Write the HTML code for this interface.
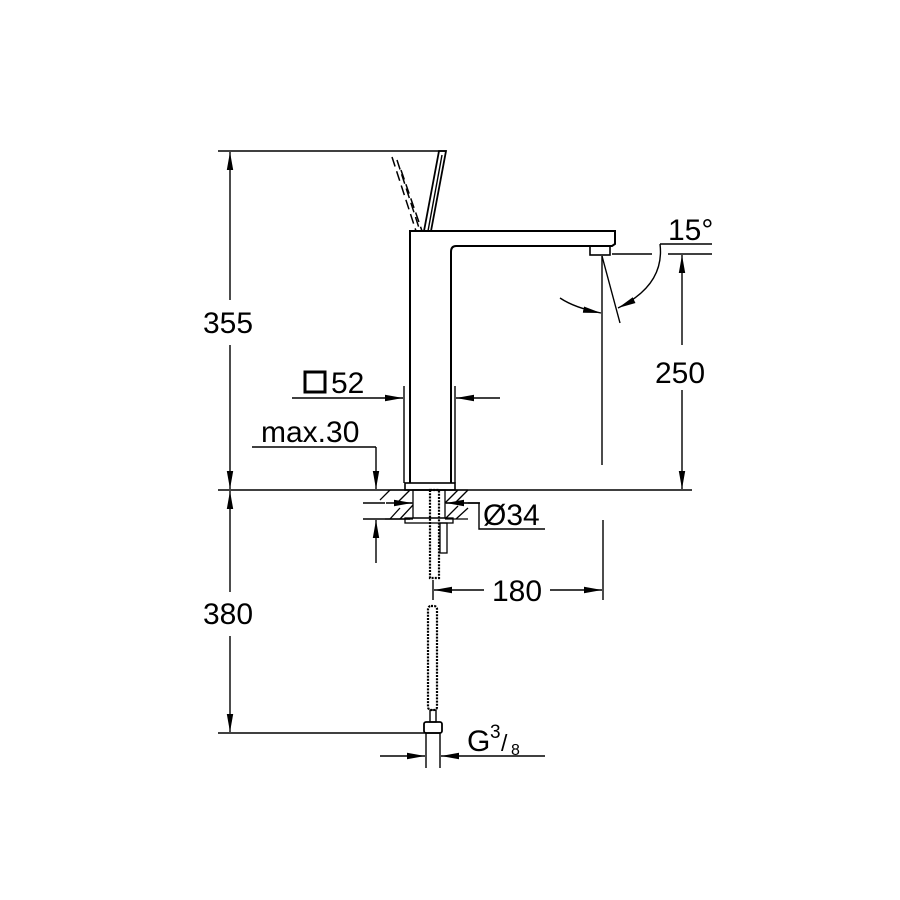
<!DOCTYPE html>
<html><head><style>body{margin:0;background:#fff}svg{display:block}text{font-family:"Liberation Sans",sans-serif;fill:#000}</style></head>
<body>
<svg width="900" height="900" viewBox="0 0 900 900" xmlns="http://www.w3.org/2000/svg" stroke="#000" fill="none" stroke-width="1.4">
<defs><marker id="a" viewBox="0 0 18 8" refX="18" refY="4" markerWidth="18" markerHeight="8" markerUnits="userSpaceOnUse" orient="auto"><path d="M0,0.8 L18,4 L0,7.2z" fill="#000" stroke="none"/></marker></defs>
<line x1="218" y1="151" x2="446" y2="151"/>
<line x1="218" y1="490" x2="692" y2="490"/>
<line x1="218" y1="733" x2="440" y2="733"/>
<line x1="230" y1="300" x2="230" y2="152" marker-end="url(#a)"/>
<line x1="230" y1="345" x2="230" y2="489" marker-end="url(#a)"/>
<text x="228" y="333" font-size="30" text-anchor="middle" stroke="none">355</text>
<line x1="230" y1="592" x2="230" y2="491" marker-end="url(#a)"/>
<line x1="230" y1="636" x2="230" y2="732" marker-end="url(#a)"/>
<text x="228" y="624" font-size="30" text-anchor="middle" stroke="none">380</text>
<path d="M410,483 V231 H615 V244 L612,246 H456 Q451,246 451,252 V483" stroke-width="2"/>
<rect x="590" y="246" width="20" height="9" stroke-width="1.6"/>
<rect x="405" y="483" width="50" height="7" stroke-width="1.6"/>
<path d="M424,231 L439,151 H446 L431,231" stroke-width="1.8"/>
<line x1="428" y1="231" x2="442" y2="155"/>
<g stroke-dasharray="10,5" stroke-width="1.5"><line x1="392" y1="157" x2="416" y2="231"/><line x1="397" y1="160" x2="420" y2="231"/><line x1="401" y1="170" x2="422" y2="231"/></g>
<line x1="404" y1="386" x2="404" y2="483"/>
<line x1="455" y1="386" x2="455" y2="483"/>
<line x1="292" y1="398" x2="403" y2="398" marker-end="url(#a)"/>
<line x1="500" y1="398" x2="456" y2="398" marker-end="url(#a)"/>
<rect x="305" y="372" width="20" height="20" stroke-width="3"/>
<text x="331" y="393" font-size="30" stroke="none">52</text>
<text x="261" y="442" font-size="30" stroke="none">max.30</text>
<line x1="252" y1="447" x2="376" y2="447"/>
<line x1="376" y1="447" x2="376" y2="489" marker-end="url(#a)"/>
<line x1="376" y1="563" x2="376" y2="520" marker-end="url(#a)"/>
<line x1="363" y1="503" x2="385" y2="503"/>
<line x1="363" y1="519" x2="410" y2="519"/>
<g stroke-width="1.3">
<line x1="390" y1="490" x2="468" y2="490"/>
<rect x="413" y="490" width="32" height="28"/>
<rect x="405" y="518" width="48" height="5"/>
<line x1="390" y1="490" x2="380" y2="500"/><line x1="410" y1="490" x2="395" y2="505"/>
<line x1="400" y1="508" x2="390" y2="519"/><line x1="413" y1="505" x2="400" y2="519"/>
<line x1="468" y1="490" x2="455" y2="503"/><line x1="458" y1="490" x2="445" y2="503"/>
<line x1="468" y1="508" x2="456" y2="519"/><line x1="458" y1="506" x2="445" y2="519"/>
<line x1="395" y1="503" x2="413" y2="503"/>
<line x1="445" y1="503" x2="468" y2="503"/>
<line x1="385" y1="519" x2="413" y2="519"/>
<line x1="445" y1="519" x2="468" y2="519"/>
</g>
<line x1="386" y1="503" x2="412" y2="503" marker-end="url(#a)"/>
<line x1="480" y1="503" x2="446" y2="503" marker-end="url(#a)"/>
<path d="M468,503 H479 V529 H545"/>
<text x="483" y="525" font-size="30" stroke="none">Ø34</text>
<rect x="430" y="490" width="9" height="88" stroke-width="2.2" stroke-dasharray="2,1.2"/>
<rect x="440" y="523" width="7" height="30" stroke-width="1.3"/>
<rect x="428" y="606" width="9" height="104" rx="3" stroke-width="2.2" stroke-dasharray="2,1.2"/>
<rect x="430" y="710" width="6" height="12"/>
<rect x="424" y="722" width="18" height="11" rx="2" stroke-width="1.8"/>
<line x1="426" y1="733" x2="426" y2="768"/>
<line x1="440" y1="733" x2="440" y2="768"/>
<line x1="380" y1="756" x2="425" y2="756" marker-end="url(#a)"/>
<line x1="545" y1="756" x2="441" y2="756" marker-end="url(#a)"/>
<text x="467" y="751" font-size="30" stroke="none">G</text>
<text x="490" y="738" font-size="19" stroke="none">3</text>
<text x="501" y="751" font-size="23" stroke="none">/</text>
<text x="511" y="755" font-size="16" stroke="none">8</text>
<line x1="433" y1="580" x2="433" y2="600"/>
<line x1="603" y1="520" x2="603" y2="600"/>
<line x1="484" y1="590" x2="434" y2="590" marker-end="url(#a)"/>
<line x1="550" y1="590" x2="602" y2="590" marker-end="url(#a)"/>
<text x="517" y="601" font-size="30" text-anchor="middle" stroke="none">180</text>
<line x1="602" y1="256" x2="602" y2="465"/>
<line x1="602" y1="256" x2="620" y2="323"/>
<line x1="612" y1="254" x2="652" y2="254"/>
<path d="M560,298 Q575,308 601,313" marker-end="url(#a)"/>
<path d="M660,244 Q665,285 618,308" marker-end="url(#a)"/>
<line x1="660" y1="244" x2="712" y2="244"/>
<text x="668" y="240" font-size="30" stroke="none">15°</text>
<line x1="668" y1="254" x2="712" y2="254"/>
<line x1="682" y1="345" x2="682" y2="255" marker-end="url(#a)"/>
<line x1="682" y1="390" x2="682" y2="489" marker-end="url(#a)"/>
<text x="680" y="383" font-size="30" text-anchor="middle" stroke="none">250</text>
</svg>
</body></html>
